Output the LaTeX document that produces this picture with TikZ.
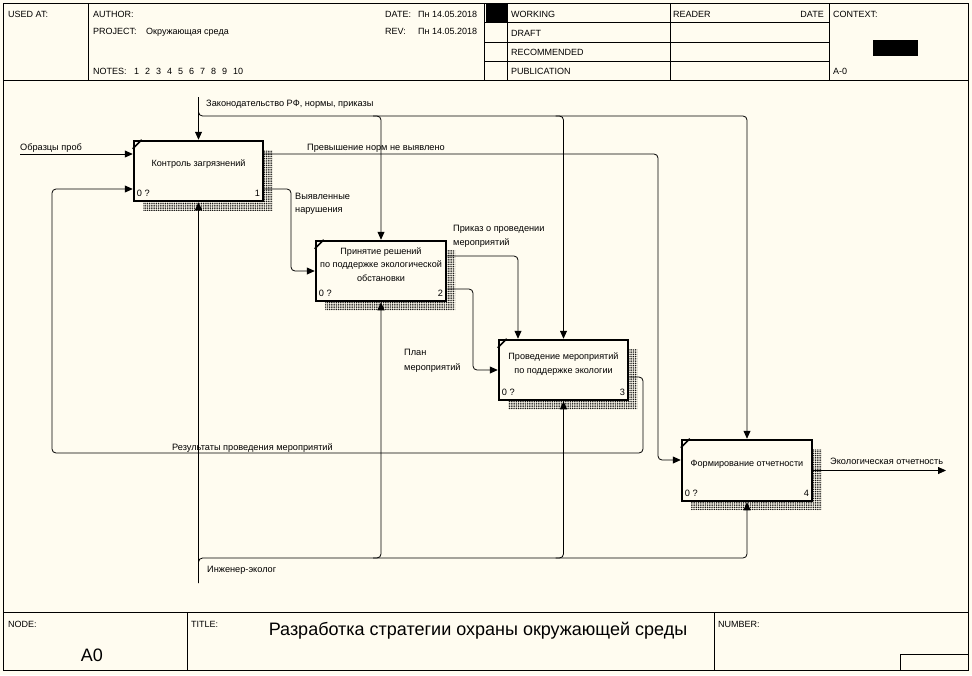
\documentclass[tikz,border=0pt]{standalone}
\usepackage{fontspec}
\setmainfont{Liberation Sans}
\usetikzlibrary{arrows.meta,patterns.meta}
\definecolor{bg}{RGB}{255,252,240}
\begin{document}
\begin{tikzpicture}[x=1pt,y=-1pt,
  hdr/.style={font=\fontsize{9}{11}\selectfont, inner sep=0pt, anchor=base west},
  lbl/.style={font=\fontsize{9.2}{10}\selectfont, inner sep=0pt, anchor=base west},
  boxtxt/.style={font=\fontsize{9.1}{13.5}\selectfont, inner sep=0pt, align=center},
  big/.style={font=\fontsize{18}{20}\selectfont, inner sep=0pt},
  fnbox/.style={draw, line width=2.5pt, fill=bg, inner sep=0pt},
  conn/.style={line width=0.8pt, rounded corners=4pt},
  arr/.style={-{Triangle[length=8pt,width=7pt]}},
  frame/.style={line width=0.8pt},
  shade/.style={pattern={Dots[distance=1.8pt,radius=0.65pt]}, pattern color=black},
  corner/.style={line width=1.5pt}]
\useasboundingbox (0,0) rectangle (972,675);
\fill[bg] (0,0) rectangle (972,675);

% ---------- frame ----------
\draw[frame] (3,3) rectangle (968,670);
\draw[frame] (3,80) -- (968,80);
\draw[frame] (3,612) -- (968,612);
\foreach \xx in {88,484,507,670,829} \draw[frame] (\xx,3) -- (\xx,80);
\foreach \yy in {22,42,61} \draw[frame] (484,\yy) -- (829,\yy);
\fill (486,3) rectangle (507,22);
\fill (873,40) rectangle (918,56);
\draw[frame] (187,612) -- (187,670);
\draw[frame] (714,612) -- (714,670);
\draw[frame] (900,654) rectangle (968,670);

% ---------- header texts ----------
\node[hdr] (usedat) at (8,17.5) {USED AT:};
\node[hdr] (author) at (93,17.5) {AUTHOR:};
\node[hdr] (project) at (93,34.5) {PROJECT:};
\node[hdr] (projname) at (146,34.5) {Окружающая среда};
\node[hdr] (notes) at (93,74.5) {NOTES:};
\foreach \n [count=\i from 0] in {1,2,3,4,5,6,7,8,9,10}
  \node[hdr] (note\n) at (134+11*\i,74.5) {\n};
\node[hdr] (date) at (385,17.5) {DATE:};
\node[hdr] (dateval) at (418,17.5) {Пн 14.05.2018};
\node[hdr] (rev) at (385,34.5) {REV:};
\node[hdr] (revval) at (418,34.5) {Пн 14.05.2018};
\node[hdr] (working) at (511,17.5) {WORKING};
\node[hdr] (draft) at (511,36) {DRAFT};
\node[hdr] (recommended) at (511,55) {RECOMMENDED};
\node[hdr] (publication) at (511,74.5) {PUBLICATION};
\node[hdr] (reader) at (673,17.5) {READER};
\node[hdr, anchor=base east] (rdate) at (824,17.5) {DATE};
\node[hdr] (context) at (833,17.5) {CONTEXT:};
\node[hdr] (actx) at (833,74.5) {A-0};

% ---------- footer texts ----------
\node[hdr] (nodelbl) at (8,627) {NODE:};
\node[hdr] (titlelbl) at (191,627) {TITLE:};
\node[hdr] (numberlbl) at (718,627) {NUMBER:};
\node[big] (nodeid) at (92,655) {A0};
\node[big] (title) at (478,631) {Разработка стратегии охраны окружающей среды};

% ---------- shadows ----------
\fill[shade] (143,150) rectangle (272,210);
\fill[shade] (325,250) rectangle (455,310);
\fill[shade] (508,349) rectangle (637,409);
\fill[shade] (691,449) rectangle (821,510);

% ---------- activity boxes ----------
\node[fnbox, minimum width=129pt, minimum height=60pt] (b1) at (198.5,171) {};
\node[fnbox, minimum width=130pt, minimum height=60pt] (b2) at (381,271) {};
\node[fnbox, minimum width=129pt, minimum height=60pt] (b3) at (563.5,370) {};
\node[fnbox, minimum width=130pt, minimum height=61pt] (b4) at (747,470.5) {};

\foreach \b/\num in {b1/1,b2/2,b3/3,b4/4}{
  \draw[corner] ([yshift=-9pt]\b.north west) -- ([xshift=9pt]\b.north west);
  \node[lbl] (\b zero) at ([xshift=4pt,yshift=6pt]\b.south west) {0 ?};
  \node[lbl, anchor=base east] (\b num) at ([xshift=-4pt,yshift=6pt]\b.south east) {\num};
}
\node[boxtxt] (b1t) at ([yshift=7pt]b1.center) {Контроль загрязнений};
\node[boxtxt] (b2t) at ([yshift=6.5pt]b2.center) {Принятие решений\\по поддержке экологической\\обстановки};
\node[boxtxt] (b3t) at ([yshift=6pt]b3.center) {Проведение мероприятий\\по поддержке экологии};
\node[boxtxt] (b4t) at ([yshift=6.5pt]b4.center) {Формирование отчетности};

% ---------- controls ----------
\coordinate (ctl) at (198.5,97);
\coordinate (cbus) at (198.5,116);
\coordinate (c2) at (cbus -| b2.north);
\coordinate (c3) at (cbus -| b3.north);
\coordinate (c4) at (cbus -| b4.north);
\draw[conn,arr] (ctl) -- (b1.north);
\draw[conn,arr] (ctl) -- (cbus) -- (c4) -- (b4.north);
\draw[conn,arr] ([xshift=-8pt]c2) -- (c2) -- (b2.north);
\draw[conn,arr] ([xshift=-8pt]c3) -- (c3) -- (b3.north);
\node[lbl] (lzak) at (206,106) {Законодательство РФ, нормы, приказы};

% ---------- input ----------
\coordinate (inp) at (20,154);
\draw[conn,arr] (inp) -- (inp -| b1.west);
\node[lbl] (lobr) at (20,150) {Образцы проб};

% ---------- b1 outputs ----------
\draw[conn,arr] (inp -| b1.east) -- (658,154) -- (658,460) -- ([yshift=10.5pt]b4.west);
\node[lbl] (lprev) at (307,150) {Превышение норм не выявлено};
\draw[conn,arr] ([yshift=-18pt]b1.east) -| (291,271) -- (b2.west);
\node[lbl] (lvyy1) at (295,199) {Выявленные};
\node[lbl] (lvyy2) at (295,212) {нарушения};

% ---------- b2 outputs ----------
\draw[conn,arr] ([yshift=15pt]b2.east) -| ([xshift=-45.5pt]b3.north);
\node[lbl] (lprik1) at (453,231) {Приказ о проведении};
\node[lbl] (lprik2) at (453,245) {мероприятий};
\draw[conn,arr] ([yshift=-18pt]b2.east) -| (473,370) -- (b3.west);
\node[lbl] (lplan1) at (404,355) {План};
\node[lbl] (lplan2) at (404,370) {мероприятий};

% ---------- b3 feedback ----------
\draw[conn,arr] ([yshift=-7pt]b3.east) -| (643,453) -| (52,189) -- ([yshift=-18pt]b1.west);
\node[lbl] (lres) at (172,450) {Результаты проведения мероприятий};

% ---------- b4 output ----------
\coordinate (outp) at (946,470.5);
\draw[conn,arr] (b4.east) -- (outp);
\node[lbl] (leco) at (830,464) {Экологическая отчетность};

% ---------- mechanisms ----------
\coordinate (mech) at (198.5,583);
\coordinate (mbus) at (198.5,558);
\coordinate (m2) at (mbus -| b2.south);
\coordinate (m3) at (mbus -| b3.south);
\coordinate (m4) at (mbus -| b4.south);
\draw[conn,arr] (mech) -- (b1.south);
\draw[conn,arr] (mech) -- (mbus) -- (m4) -- (b4.south);
\draw[conn,arr] ([xshift=-8pt]m2) -- (m2) -- (b2.south);
\draw[conn,arr] ([xshift=-8pt]m3) -- (m3) -- (b3.south);
\node[lbl] (ling) at (207,572) {Инженер-эколог};
\end{tikzpicture}
\end{document}
